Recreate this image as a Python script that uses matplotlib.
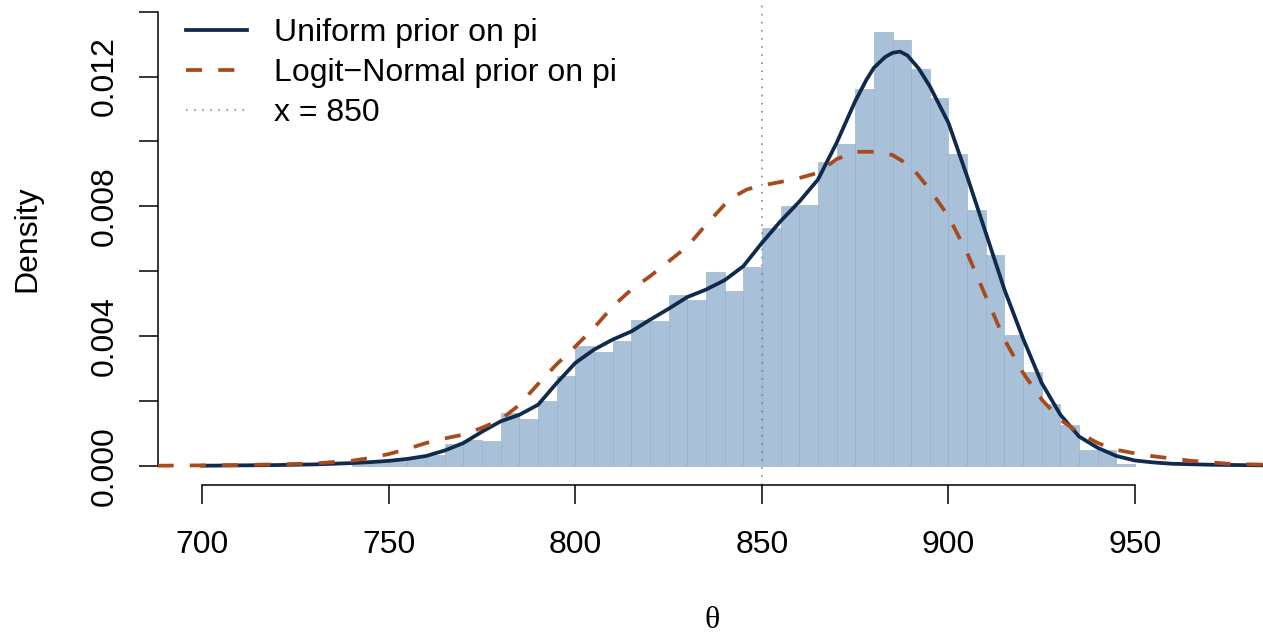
import numpy as np
import matplotlib
matplotlib.use("Agg")
import matplotlib.pyplot as plt

plt.rcParams['font.family'] = ['Liberation Sans', 'DejaVu Sans']

# histogram of posterior draws (density scale), bins of width 5
bin_left = [740, 745, 750, 755, 760, 765, 770, 775, 780, 785, 790, 795,
            800, 805, 810, 815, 820, 825, 830, 835, 840, 845, 850, 855,
            860, 865, 870, 875, 880, 885, 890, 895, 900, 905, 910, 915,
            920, 925, 930, 935, 940, 945]
bin_dens = [0.00005, 0.00013, 0.00013, 0.00024, 0.00034, 0.00067, 0.00078, 0.00077,
            0.00164, 0.00144, 0.00198, 0.00276, 0.00370, 0.00350, 0.00386, 0.00450,
            0.00447, 0.00527, 0.00512, 0.00598, 0.00540, 0.00614, 0.00734, 0.00802,
            0.00805, 0.00935, 0.00993, 0.01163, 0.01336, 0.01314, 0.01222, 0.01135,
            0.00960, 0.00787, 0.00651, 0.00404, 0.00290, 0.00190, 0.00126, 0.00049,
            0.00049, 0.00006]

# density with uniform prior on pi
unif_x = [700, 710, 720, 730, 740, 745, 750, 755, 760, 765, 770, 775, 780, 785,
          790, 795, 800, 805, 810, 815, 820, 825, 830, 835, 840, 845, 850, 855,
          860, 865, 870, 875, 878, 880, 883, 885, 887, 889, 892, 895, 900, 905,
          910, 915, 920, 925, 930, 935, 940, 945, 950, 955, 960, 970, 985]
unif_y = [0.0, 0.00001, 0.00002, 0.00004, 0.00008, 0.00011, 0.00015, 0.00021, 0.00030,
          0.00047, 0.00070, 0.00105, 0.00137, 0.00157, 0.00188, 0.00255, 0.00317,
          0.00358, 0.00389, 0.00414, 0.00450, 0.00484, 0.00520, 0.00543, 0.00572,
          0.00615, 0.00687, 0.00754, 0.00814, 0.00882, 0.00995, 0.01124, 0.01190,
          0.01227, 0.01260, 0.01273, 0.01277, 0.01265, 0.01225, 0.01170, 0.01057,
          0.00892, 0.00718, 0.00543, 0.00392, 0.00255, 0.00157, 0.00090, 0.00055,
          0.00030, 0.00016, 0.00010, 0.00006, 0.00003, 0.00001]

# density with logit-normal prior on pi
logit_x = [688, 700, 710, 720, 730, 740, 745, 750, 755, 760, 765, 770, 775, 780,
           785, 790, 795, 800, 805, 810, 815, 820, 825, 830, 835, 840, 843, 846,
           850, 855, 860, 865, 870, 875, 880, 885, 890, 895, 900, 905, 910, 915,
           920, 925, 930, 935, 940, 945, 950, 955, 965, 975, 985]
logit_y = [0.0, 0.00001, 0.00002, 0.00004, 0.00007, 0.00015, 0.00024, 0.00036, 0.00052,
           0.00070, 0.00084, 0.00096, 0.00117, 0.00142, 0.00188, 0.00252, 0.00313,
           0.00368, 0.00425, 0.00491, 0.00543, 0.00584, 0.00630, 0.00676, 0.00743,
           0.00805, 0.00833, 0.00852, 0.00864, 0.00875, 0.00887, 0.00903, 0.00945,
           0.00968, 0.00968, 0.00958, 0.00923, 0.00851, 0.00769, 0.00656, 0.00522,
           0.00389, 0.00286, 0.00204, 0.00142, 0.00101, 0.00070, 0.00049, 0.00038,
           0.00029, 0.00015, 0.00006, 0.00003]

ref_x = 850
x_ticks = [700, 750, 800, 850, 900, 950]
y_ticks = [0.000, 0.002, 0.004, 0.006, 0.008, 0.010, 0.012, 0.014]
y_labels = ['0.000', '', '0.004', '', '0.008', '', '0.012', '']

W, H = 1263, 632
fig = plt.figure(figsize=(W / 100, H / 100), dpi=100)
ax = fig.add_axes([158 / W, (H - 485) / H, 1 - 158 / W, 485 / H])

fs = 23

ax.bar(bin_left, bin_dens, width=5, align='edge', color='#a9c1d8',
       edgecolor='#93adc8', linewidth=0.4, zorder=1)
ax.axvline(ref_x, color='#7a7a7a', linestyle=(0, (1, 4.3)), linewidth=1.1,
           zorder=2, label='x = 850')
ax.plot(unif_x, unif_y, color='#0e2a4d', linewidth=2.7, zorder=3,
        label='Uniform prior on pi')
ax.plot(logit_x, logit_y, color='#a84a1c', linewidth=2.7, zorder=4,
        linestyle=(0, (4.3, 4.3)), label='Logit\u2212Normal prior on pi')

ax.set_xlim(688.13, 984.3)
ax.set_ylim(-0.000595, 0.01436)

for s in ['top', 'right']:
    ax.spines[s].set_visible(False)
ax.spines['left'].set_bounds(0, 0.014)
ax.spines['bottom'].set_bounds(700, 950)
for s in ['left', 'bottom']:
    ax.spines[s].set_linewidth(1.1)

ax.set_xticks(x_ticks)
ax.set_xticklabels([str(t) for t in x_ticks], fontsize=fs)
ax.set_yticks(y_ticks)
ax.set_yticklabels(y_labels, fontsize=fs, rotation=90, va='center')
ax.tick_params(axis='both', length=13.7, width=1.1, direction='out')
ax.tick_params(axis='x', pad=19)
ax.tick_params(axis='y', pad=14)

fig.text(27 / W, 1 - 239 / H, 'Density', rotation=90, ha='center', va='center',
         fontsize=fs)
fig.text(712 / W, 1 - 620 / H, '\u03b8', ha='center', va='center', fontsize=fs,
         family=['Liberation Serif', 'DejaVu Serif'])

handles, labels = ax.get_legend_handles_labels()
order = [1, 2, 0]
ax.legend([handles[i] for i in order], [labels[i] for i in order],
          loc='upper left', bbox_to_anchor=(186 / W, 1 - 18 / H),
          bbox_transform=fig.transFigure, frameon=False, fontsize=fs,
          handlelength=1.9, handletextpad=0.85, labelspacing=0.32,
          borderpad=0, borderaxespad=0)

fig.savefig('out.png', dpi=100)
